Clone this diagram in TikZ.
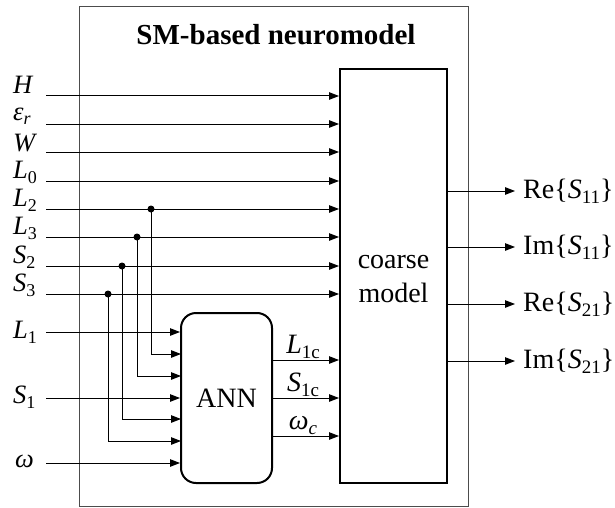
\documentclass[tikz,border=0pt]{standalone}
\usepackage{fontspec}
\setmainfont{Liberation Serif}
\usetikzlibrary{arrows.meta}
\newcommand\sbx[2][5.5pt]{\raisebox{-#1}{\fontsize{19}{20}\selectfont #2}}
\newcommand\sbs[2][5pt]{\raisebox{-#1}{\fontsize{18}{19}\selectfont #2}}
\begin{document}
\begin{tikzpicture}[x=1pt,y=-1pt,
  lbl/.style={font=\fontsize{28}{30}\selectfont, inner sep=0pt},
  inl/.style={font=\fontsize{26.5}{28}\selectfont, inner sep=0pt, anchor=base west},
  sig/.style={line width=1pt, -{Triangle[length=10pt,width=7.5pt]}},
  blk/.style={draw, line width=2pt, inner sep=0pt},
  jdot/.style={circle, fill, inner sep=0pt, minimum size=7pt}]
\useasboundingbox (0,0) rectangle (615,508);
% outer frame
\node[draw=black!70, line width=1pt, minimum width=389pt, minimum height=499pt, inner sep=0pt] (outer) at (273.5,256.5) {};
\node[font=\bfseries\fontsize{29}{30}\selectfont, anchor=base, inner sep=0pt] (title) at (276,45) {SM-based neuromodel};
% blocks
\node[blk, minimum width=107pt, minimum height=414pt] (coarse) at (393.5,276) {};
\node[lbl, align=center, font=\fontsize{28}{34}\selectfont] (ctext) at (393.5,279) {coarse\\model};
\node[blk, rounded corners=15pt, minimum width=91pt, minimum height=170pt, lbl, line width=2pt] (ann) at (226.5,398) {ANN};
% input labels
\node[inl] (lH)  at (13,94)  {\textit{H}};
\node[inl] (lE)  at (13,121) {\textit{ε}\sbs[4pt]{\textit{r}}};
\node[inl] (lW)  at (13,151) {\textit{W}};
\node[inl] (lL0) at (13,178) {\textit{L}\sbs{0}};
\node[inl] (lL2) at (13,206) {\textit{L}\sbs{2}};
\node[inl] (lL3) at (13,234) {\textit{L}\sbs{3}};
\node[inl] (lS2) at (13,263) {\textit{S}\sbs{2}};
\node[inl] (lS3) at (13,291) {\textit{S}\sbs{3}};
\node[inl] (lL1) at (13,338) {\textit{L}\sbs{1}};
\node[inl] (lS1) at (13,403) {\textit{S}\sbs{1}};
\node[inl] (lw)  at (15,467) {\textit{ω}};
% input line starts
\coordinate (iH)  at (46,96);
\coordinate (iE)  at (46,124);
\coordinate (iW)  at (46,152);
\coordinate (iL0) at (46,181);
\coordinate (iL2) at (46,209);
\coordinate (iL3) at (46,237);
\coordinate (iS2) at (46,266);
\coordinate (iS3) at (46,294);
\coordinate (iL1) at (46,332);
\coordinate (iS1) at (46,398);
\coordinate (iw)  at (46,463);
\foreach \n in {iH,iE,iW,iL0,iL2,iL3,iS2,iS3}
  \draw[sig] (\n) -- (\n -| coarse.west);
\foreach \n in {iL1,iS1,iw}
  \draw[sig] (\n) -- (\n -| ann.west);
% junctions and branches
\node[jdot] (d2) at (151,209) {};
\node[jdot] (d3) at (137,237) {};
\node[jdot] (d4) at (122,266) {};
\node[jdot] (d5) at (108,294) {};
\coordinate (a2) at (181,354);
\coordinate (a3) at (181,376);
\coordinate (a4) at (181,419);
\coordinate (a5) at (181,441);
\draw[sig] (d2.center) |- (a2);
\draw[sig] (d3.center) |- (a3);
\draw[sig] (d4.center) |- (a4);
\draw[sig] (d5.center) |- (a5);
% ANN outputs
\coordinate (o1) at (272,360);
\coordinate (o2) at (272,398);
\coordinate (o3) at (272,436);
\foreach \n in {o1,o2,o3}
  \draw[sig] (\n) -- (\n -| coarse.west);
\node[lbl, anchor=base] (lL1c) at (303,353) {\textit{L}\sbx{1c}};
\node[lbl, anchor=base] (lS1c) at (303,391) {\textit{S}\sbx{1c}};
\node[lbl, anchor=base] (lwc)  at (303,429) {\textit{ω}\sbx{\textit{c}}};
% outputs
\coordinate (e1) at (515,191);
\coordinate (e2) at (515,247);
\coordinate (e3) at (515,304);
\coordinate (e4) at (515,361);
\foreach \n in {e1,e2,e3,e4}
  \draw[sig] (\n -| coarse.east) -- (\n);
\node[lbl, anchor=base west] (r1) at (523,198) {Re\{\textit{S}\sbx{11}\}};
\node[lbl, anchor=base west] (r2) at (523,254) {Im\{\textit{S}\sbx{11}\}};
\node[lbl, anchor=base west] (r3) at (523,311) {Re\{\textit{S}\sbx{21}\}};
\node[lbl, anchor=base west] (r4) at (523,368) {Im\{\textit{S}\sbx{21}\}};
\end{tikzpicture}
\end{document}
